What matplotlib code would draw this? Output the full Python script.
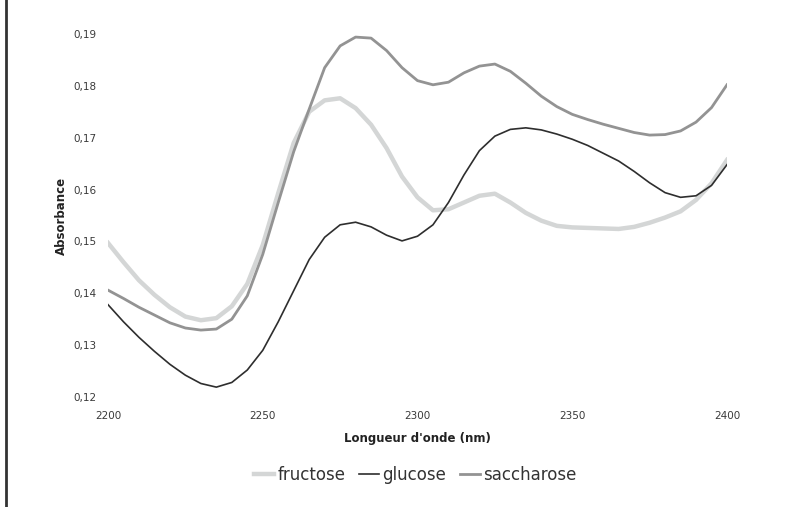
import numpy as np
import matplotlib.pyplot as plt
from matplotlib.lines import Line2D
from matplotlib.ticker import FuncFormatter

# wavelength every 5 nm
wl = np.arange(2200, 2401, 5)

fructose = [0.1497, 0.1460, 0.1425, 0.1397, 0.1373, 0.1355, 0.1348, 0.1352, 0.1375, 0.1418,
            0.1493, 0.1593, 0.1690, 0.1750, 0.1772, 0.1776, 0.1757, 0.1725, 0.1680, 0.1625,
            0.1585, 0.1560, 0.1562, 0.1575, 0.1588, 0.1592, 0.1575, 0.1555, 0.1540, 0.1530,
            0.1527, 0.1526, 0.1525, 0.1524, 0.1528, 0.1536, 0.1546, 0.1558, 0.1580, 0.1612,
            0.1657]
glucose = [0.1378, 0.1345, 0.1315, 0.1288, 0.1263, 0.1242, 0.1226, 0.1219, 0.1228, 0.1252,
           0.1290, 0.1345, 0.1405, 0.1465, 0.1508, 0.1532, 0.1537, 0.1528, 0.1512, 0.1501,
           0.1510, 0.1532, 0.1575, 0.1628, 0.1675, 0.1703, 0.1716, 0.1719, 0.1715, 0.1707,
           0.1697, 0.1685, 0.1670, 0.1655, 0.1635, 0.1613, 0.1594, 0.1585, 0.1588, 0.1608,
           0.1648]
saccharose = [0.1406, 0.1390, 0.1373, 0.1358, 0.1343, 0.1333, 0.1329, 0.1331, 0.1350, 0.1395,
              0.1475, 0.1575, 0.1673, 0.1755, 0.1835, 0.1877, 0.1894, 0.1892, 0.1868, 0.1835,
              0.1810, 0.1802, 0.1807, 0.1825, 0.1838, 0.1842, 0.1828, 0.1805, 0.1780, 0.1760,
              0.1745, 0.1735, 0.1726, 0.1718, 0.1710, 0.1705, 0.1706, 0.1713, 0.1730, 0.1758,
              0.1802]

fig = plt.figure(figsize=(7.85, 5.07), dpi=100)
ax = fig.add_axes([0.1376, 0.217, 0.7885, 0.716])

ax.plot(wl, fructose, color='#d4d6d6', lw=3.2, label='fructose', solid_joinstyle='round')
ax.plot(wl, glucose, color='#2e2e2e', lw=1.2, label='glucose', solid_joinstyle='round')
ax.plot(wl, saccharose, color='#939393', lw=2.0, label='saccharose', solid_joinstyle='round')

ax.set_xlim(2200, 2400)
ax.set_ylim(0.12, 0.19)
ax.set_xticks([2200, 2250, 2300, 2350, 2400])
ax.set_yticks(np.arange(0.12, 0.1901, 0.01))
ax.yaxis.set_major_formatter(FuncFormatter(lambda v, p: ('%.2f' % v).replace('.', ',')))
for s in ax.spines.values():
    s.set_visible(False)
ax.tick_params(length=0, labelsize=7.5, colors='#3a3a3a')
ax.tick_params(axis='x', pad=10)
ax.tick_params(axis='y', pad=8)

ax.set_ylabel('Absorbance', fontsize=8.5, fontweight='bold', color='#222222', labelpad=4)
ax.set_xlabel("Longueur d'onde (nm)", fontsize=8.5, fontweight='bold', color='#222222', labelpad=8)

leg = fig.legend(loc='center', bbox_to_anchor=(0.529, 0.063), ncol=3, frameon=False,
                 fontsize=12, handlelength=1.2, handletextpad=0.2, columnspacing=0.8)
for t in leg.get_texts():
    t.set_color('#333333')

# scanned page border on the left
fig.add_artist(Line2D([0.008, 0.008], [0, 1], color='#333333', lw=2))

fig.savefig('out.png', dpi=100)
